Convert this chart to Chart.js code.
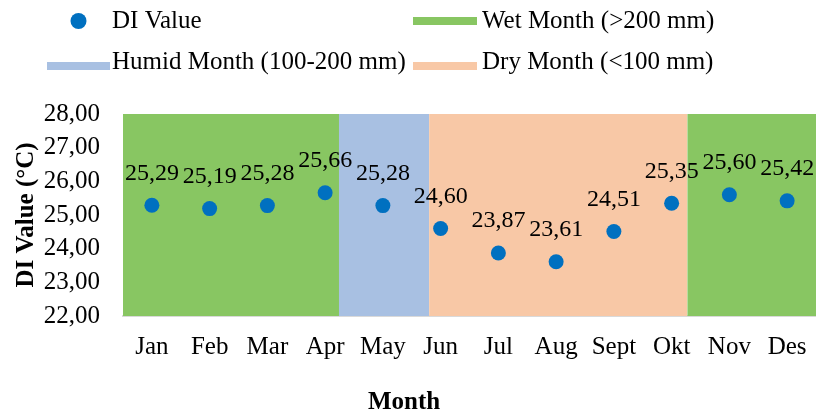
<!DOCTYPE html>
<html>
<head>
<meta charset="utf-8">
<script src="https://cdn.jsdelivr.net/npm/chart.js@4/dist/chart.umd.min.js"></script>
<style>
  html, body { margin: 0; padding: 0; background: #ffffff; }
  #wrap { width: 816px; height: 417px; position: relative; }
</style>
</head>
<body>
<div id="wrap"><canvas id="c"></canvas></div>
<script>
// ---- data ----
const months = ['Jan','Feb','Mar','Apr','May','Jun','Jul','Aug','Sept','Okt','Nov','Des'];
const diValues = [25.29, 25.19, 25.28, 25.66, 25.28, 24.60, 23.87, 23.61, 24.51, 25.35, 25.60, 25.42];
const yMin = 22, yMax = 28, yStep = 1;
// band edges in month-index units (Jan = 0)
const wetBand1 = [-0.5, 3.24];
const humidBand = [3.24, 4.80];
const dryBand = [4.80, 9.27];
const wetBand2 = [9.27, 11.5];

const seriesNames = ['DI Value', 'Wet Month (>200 mm)', 'Humid Month (100-200 mm)', 'Dry Month (<100 mm)'];
const xTitle = 'Month';
const yTitle = 'DI Value (°C)';
const colors = { dot: '#0070C0', wet: '#88C662', humid: '#A8C0E2', dry: '#F8C8A6' };

const FONT = 'Liberation Serif';
const fmt = v => v.toFixed(2).replace('.', ',');

function band(label, edges, color) {
  return {
    type: 'line', label, xAxisID: 'x2', yAxisID: 'y',
    data: [{ x: edges[0], y: yMax }, { x: edges[1], y: yMax }],
    fill: 'start', backgroundColor: color, borderWidth: 0, borderColor: color,
    pointRadius: 0, tension: 0
  };
}

const dataLabelsPlugin = {
  id: 'dataLabels',
  afterDatasetsDraw(chart) {
    const meta = chart.getDatasetMeta(0);
    const ctx = chart.ctx;
    ctx.save();
    ctx.font = '24px "' + FONT + '"';
    ctx.fillStyle = '#000';
    ctx.textAlign = 'center';
    ctx.textBaseline = 'middle';
    meta.data.forEach((pt, i) => {
      ctx.fillText(fmt(diValues[i]), pt.x, pt.y - 32);
    });
    ctx.restore();
  }
};

const xTitlePlugin = {
  id: 'xTitle',
  afterDraw(chart) {
    const ctx = chart.ctx;
    ctx.save();
    ctx.font = 'bold 25px "' + FONT + '"';
    ctx.fillStyle = '#000';
    ctx.textAlign = 'center';
    ctx.textBaseline = 'middle';
    ctx.fillText(xTitle, 404, 403);
    ctx.restore();
  }
};

const legendPlugin = {
  id: 'gridLegend',
  afterDraw(chart) {
    const ctx = chart.ctx;
    const ds = chart.data.datasets;
    // [datasetIndex, symbol left, symbol right, text x, symbol y, text y, kind]
    const items = [
      [0, 47, 110, 112, 21, 21, 'dot'],
      [1, 413, 477, 482, 21, 21, 'bar'],
      [2, 47, 110, 112, 66, 62, 'bar'],
      [3, 413, 477, 482, 66, 62, 'bar']
    ];
    ctx.save();
    ctx.font = '25px "' + FONT + '"';
    ctx.textAlign = 'left';
    ctx.textBaseline = 'middle';
    items.forEach(([di, l, r, tx, sy, ty, kind]) => {
      const d = ds[di];
      ctx.fillStyle = d.backgroundColor;
      if (kind === 'dot') {
        ctx.beginPath();
        ctx.arc((l + r) / 2, sy, 8, 0, Math.PI * 2);
        ctx.fill();
      } else {
        ctx.fillRect(l, sy - 4, r - l, 8);
      }
      ctx.fillStyle = '#000';
      ctx.fillText(d.label, tx, ty);
    });
    ctx.restore();
  }
};

new Chart(document.getElementById('c'), {
  data: {
    labels: months,
    datasets: [
      {
        type: 'line', label: seriesNames[0], data: diValues,
        xAxisID: 'x', yAxisID: 'y', showLine: false,
        pointRadius: 7.5, pointHoverRadius: 7.5,
        backgroundColor: colors.dot, borderColor: colors.dot, pointBorderWidth: 0
      },
      band(seriesNames[1], wetBand1, colors.wet),
      band(seriesNames[2], humidBand, colors.humid),
      band(seriesNames[3], dryBand, colors.dry),
      band(seriesNames[1], wetBand2, colors.wet)
    ]
  },
  options: {
    responsive: true,
    maintainAspectRatio: false,
    animation: false,
    layout: { autoPadding: false, padding: { top: 114, left: 0, right: 0, bottom: 0 } },
    plugins: { legend: { display: false }, tooltip: { enabled: false } },
    scales: {
      x: {
        type: 'category', offset: true, position: 'bottom',
        grid: { display: false, drawTicks: true, tickLength: 16 },
        border: { display: true, color: '#D9D9D9', width: 2 },
        ticks: { color: '#000', font: { family: FONT, size: 25 }, padding: 0, maxRotation: 0, autoSkip: false },
        afterFit(s) { s.height = 101; s.paddingLeft = 0; s.paddingRight = 0; }
      },
      x2: {
        type: 'linear', display: false, min: -0.5, max: 11.5, position: 'bottom'
      },
      y: {
        type: 'linear', min: yMin, max: yMax,
        grid: { display: false, drawTicks: false },
        border: { display: false },
        ticks: { stepSize: yStep, color: '#000', font: { family: FONT, size: 25 }, padding: 23, callback: v => fmt(v) },
        title: { display: true, text: yTitle, color: '#000', font: { family: FONT, size: 25, weight: 'bold' }, padding: { top: 12, bottom: 0 } },
        afterFit(s) { s.width = 123; }
      }
    }
  },
  plugins: [dataLabelsPlugin, xTitlePlugin, legendPlugin]
});
</script>
</body>
</html>
